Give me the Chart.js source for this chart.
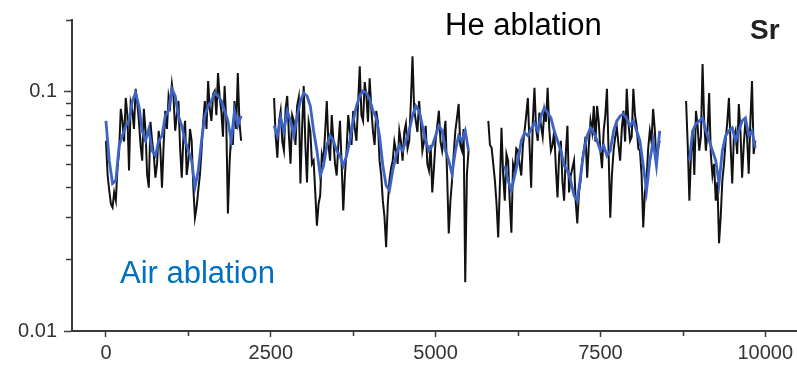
<!DOCTYPE html>
<html>
<head>
<meta charset="utf-8">
<script src="https://cdn.jsdelivr.net/npm/chart.js@4"></script>
<style>
  body { margin: 0; background: #fff; }
  canvas { display: block; }
</style>
</head>
<body>
<canvas id="sr" width="797" height="368"></canvas>
<script>
// sampling: each run is recorded every 50 units starting at segStarts[k];
// the "m" arrays hold the He readings taken halfway between those
let segStarts = [0, 2550, 5800, 8800];
let step = 50;

// He ablation (black)
let he1 = [0.0625, 0.0387, 0.0329, 0.0352, 0.0568, 0.0757, 0.0944, 0.0469, 0.0834, 0.103, 0.0757, 0.0516, 0.0688, 0.0398, 0.0625, 0.0438, 0.0688, 0.0398, 0.0834, 0.0962, 0.108, 0.0688, 0.0917, 0.0438, 0.0757, 0.0516, 0.0625, 0.0298, 0.0387, 0.0568, 0.0917, 0.111, 0.0757, 0.101, 0.120, 0.0834, 0.106, 0.031, 0.0688, 0.0917, 0.120, 0.0625];
let he1m = [0.045, 0.034, 0.038, 0.048, 0.085, 0.062, 0.080, 0.090, 0.070, 0.090, 0.060, 0.085, 0.045, 0.075, 0.055, 0.050, 0.058, 0.060, 0.070, 0.088, 0.095, 0.080, 0.058, 0.065, 0.045, 0.070, 0.040, 0.033, 0.045, 0.075, 0.070, 0.085, 0.098, 0.080, 0.095, 0.065, 0.075, 0.050, 0.060, 0.070, 0.075];
let he2 = [0.0944, 0.0531, 0.0833, 0.0568, 0.0962, 0.0501, 0.0757, 0.0874, 0.0414, 0.106, 0.0418, 0.0688, 0.0516, 0.0276, 0.0369, 0.0516, 0.0917, 0.0516, 0.0625, 0.0447, 0.0757, 0.0319, 0.0568, 0.0688, 0.0833, 0.0625, 0.128, 0.0757, 0.0962, 0.114, 0.0688, 0.0833, 0.0516, 0.0351, 0.0224, 0.0426, 0.0516, 0.0568, 0.0688, 0.0516, 0.0736, 0.0625, 0.141, 0.0757, 0.0917, 0.0568, 0.0722, 0.0469, 0.0380, 0.0625, 0.0833, 0.0568, 0.0757, 0.0256, 0.0426, 0.0688, 0.0891, 0.0568, 0.0160, 0.0568];
let he2m = [0.065, 0.075, 0.062, 0.085, 0.066, 0.080, 0.060, 0.095, 0.070, 0.060, 0.075, 0.050, 0.038, 0.034, 0.055, 0.068, 0.060, 0.080, 0.050, 0.060, 0.050, 0.045, 0.080, 0.060, 0.070, 0.090, 0.080, 0.110, 0.075, 0.085, 0.060, 0.075, 0.045, 0.030, 0.034, 0.048, 0.062, 0.050, 0.062, 0.068, 0.058, 0.090, 0.085, 0.068, 0.075, 0.062, 0.050, 0.060, 0.048, 0.072, 0.062, 0.065, 0.045, 0.035, 0.055, 0.078, 0.060, 0.070, 0.045];
let he3 = [0.0757, 0.0584, 0.0426, 0.0246, 0.0708, 0.0351, 0.0516, 0.0258, 0.0469, 0.0568, 0.0447, 0.0688, 0.0944, 0.0398, 0.104, 0.0625, 0.0722, 0.0833, 0.104, 0.0568, 0.0688, 0.0362, 0.0625, 0.0351, 0.0722, 0.0447, 0.0516, 0.0282, 0.0426, 0.0568, 0.0438, 0.0757, 0.0874, 0.0874, 0.0568, 0.0688, 0.103, 0.0298, 0.0568, 0.0708, 0.0516, 0.0833, 0.103, 0.0625, 0.103, 0.0722, 0.0568, 0.0271, 0.0426, 0.0688, 0.0849, 0.0516, 0.0625];
let he3m = [0.060, 0.050, 0.034, 0.040, 0.045, 0.055, 0.035, 0.050, 0.058, 0.050, 0.060, 0.080, 0.060, 0.075, 0.070, 0.082, 0.065, 0.075, 0.070, 0.060, 0.048, 0.055, 0.042, 0.055, 0.038, 0.048, 0.035, 0.038, 0.052, 0.065, 0.060, 0.068, 0.062, 0.075, 0.048, 0.080, 0.055, 0.045, 0.065, 0.060, 0.070, 0.062, 0.075, 0.065, 0.080, 0.058, 0.045, 0.038, 0.058, 0.062, 0.070, 0.058];
let he4 = [0.0917, 0.0351, 0.0688, 0.0833, 0.0568, 0.131, 0.0568, 0.099, 0.0447, 0.0351, 0.0233, 0.0426, 0.0625, 0.0944, 0.0414, 0.0688, 0.0891, 0.0438, 0.0757, 0.0455, 0.111, 0.0625];
let he4m = [0.060, 0.055, 0.045, 0.072, 0.065, 0.075, 0.068, 0.055, 0.050, 0.042, 0.030, 0.050, 0.075, 0.060, 0.065, 0.055, 0.068, 0.060, 0.065, 0.075, 0.055];

// Air ablation (blue)
let air1 = [0.0757, 0.0516, 0.0414, 0.0426, 0.0596, 0.0656, 0.0722, 0.0757, 0.0917, 0.099, 0.0874, 0.0688, 0.0625, 0.0701, 0.0568, 0.0541, 0.0625, 0.0656, 0.0794, 0.0834, 0.103, 0.0962, 0.0794, 0.0722, 0.0625, 0.0568, 0.0516, 0.0398, 0.0469, 0.0625, 0.0794, 0.0874, 0.0917, 0.099, 0.0962, 0.0917, 0.0834, 0.0757, 0.0625, 0.0834, 0.0722, 0.0794];
let air2 = [0.0722, 0.0656, 0.0779, 0.0688, 0.0833, 0.0757, 0.0656, 0.0794, 0.0917, 0.099, 0.0962, 0.0874, 0.0688, 0.0568, 0.0447, 0.0492, 0.0596, 0.0656, 0.0625, 0.0568, 0.0541, 0.0492, 0.0541, 0.0625, 0.0757, 0.0874, 0.0962, 0.101, 0.099, 0.0935, 0.0833, 0.0779, 0.0656, 0.0492, 0.0406, 0.0387, 0.0469, 0.0541, 0.0596, 0.0568, 0.0625, 0.0688, 0.0794, 0.0874, 0.0833, 0.0722, 0.0625, 0.0568, 0.0596, 0.0656, 0.0722, 0.0688, 0.0568, 0.0516, 0.0455, 0.0568, 0.0656, 0.0625, 0.0688, 0.0568];
let air3 = [null, null, null, null, null, 0.0492, 0.0426, 0.0387, 0.0447, 0.0516, 0.0625, 0.0675, 0.0656, 0.0701, 0.0743, 0.0688, 0.0794, 0.0858, 0.0818, 0.0779, 0.0688, 0.0625, 0.0568, 0.0492, 0.0469, 0.0426, 0.0369, 0.0351, 0.0447, 0.0568, 0.0656, 0.0708, 0.0675, 0.0625, 0.0568, 0.0596, 0.0541, 0.0568, 0.0688, 0.0757, 0.0794, 0.0810, 0.0772, 0.0722, 0.0757, 0.0688, 0.0625, 0.0492, 0.0387, 0.0516, 0.0625, 0.0492, 0.0688];
let air4 = [null, 0.0516, 0.0688, 0.0736, 0.0757, 0.0779, 0.0688, 0.0625, 0.0568, 0.0516, 0.0414, 0.0568, 0.0656, 0.0688, 0.0708, 0.0625, 0.0688, 0.0757, 0.0779, 0.0656, 0.0688, 0.0584];

let xTicks = [0, 2500, 5000, 7500, 10000];
let xMinor = [1250, 3750, 6250, 8750];
let yTicks = [0.01, 0.1];
let yMinor = [0.02, 0.03, 0.04, 0.05, 0.06, 0.07, 0.08, 0.09, 0.2];

let axisColor = '#3a3a3a';
let labelColor = '#333';
let fontFamily = '"Liberation Sans", Arial, sans-serif';

function buildPoints(segs, mids) {
    let pts = [];
    segs.forEach(function (vals, k) {
        if (k > 0) pts.push({x: segStarts[k] - step, y: null});
        vals.forEach(function (v, i) {
            pts.push({x: segStarts[k] + i * step, y: v});
            if (mids && i < mids[k].length) {
                pts.push({x: segStarts[k] + i * step + step / 2, y: mids[k][i]});
            }
        });
    });
    return pts;
}

let hePoints = buildPoints([he1, he2, he3, he4], [he1m, he2m, he3m, he4m]);
let airPoints = buildPoints([air1, air2, air3, air4]);

// minor tick marks and the text labels on the plot
let extras = {
    id: 'extras',
    afterDraw: function (chart) {
        let ctx = chart.ctx;
        let xs = chart.scales.x;
        let ys = chart.scales.y;
        ctx.save();
        ctx.strokeStyle = axisColor;
        ctx.lineWidth = 1.5;
        ctx.beginPath();
        yMinor.forEach(function (v) {
            let py = Math.round(ys.getPixelForValue(v)) + 0.5;
            ctx.moveTo(ys.right - 6, py);
            ctx.lineTo(ys.right, py);
        });
        xMinor.forEach(function (v) {
            let px = Math.round(xs.getPixelForValue(v)) + 0.5;
            ctx.moveTo(px, xs.top);
            ctx.lineTo(px, xs.top + 5);
        });
        ctx.stroke();

        ctx.textBaseline = 'alphabetic';
        ctx.textAlign = 'left';
        ctx.fillStyle = '#000';
        ctx.font = '31px ' + fontFamily;
        ctx.fillText('He ablation', 445, 35);
        ctx.fillStyle = '#0070c0';
        ctx.fillText('Air ablation', 120, 283);
        ctx.fillStyle = '#222';
        ctx.font = 'bold 28px ' + fontFamily;
        ctx.fillText('Sr', 750, 39);
        ctx.restore();
    }
};

var ctx = document.getElementById('sr').getContext('2d');
var chart = new Chart(ctx, {
    type: 'line',
    data: {
        datasets: [{
            label: 'Air ablation',
            data: airPoints,
            borderColor: '#3d63c4',
            borderWidth: 2.8,
            pointRadius: 0,
            tension: 0,
            spanGaps: false
        }, {
            label: 'He ablation',
            data: hePoints,
            borderColor: '#111',
            borderWidth: 2,
            pointRadius: 0,
            tension: 0,
            spanGaps: false
        }]
    },
    options: {
        responsive: false,
        animation: false,
        layout: { padding: { top: 20, right: 0, left: 0, bottom: 0 } },
        plugins: {
            legend: { display: false },
            tooltip: { enabled: false }
        },
        scales: {
            x: {
                type: 'linear',
                min: -515,
                max: 10470,
                afterBuildTicks: function (scale) {
                    scale.ticks = xTicks.map(function (v) { return {value: v}; });
                },
                afterFit: function (scale) { scale.height = 37; },
                grid: { drawOnChartArea: false, tickLength: 6, tickColor: axisColor, tickWidth: 1.5 },
                border: { color: axisColor, width: 2 },
                ticks: {
                    color: labelColor,
                    font: { family: fontFamily, size: 20 },
                    padding: 4,
                    maxRotation: 0,
                    autoSkip: false,
                    callback: function (v) { return String(v); }
                }
            },
            y: {
                type: 'logarithmic',
                min: 0.01,
                max: 0.2,
                afterBuildTicks: function (scale) {
                    scale.ticks = yTicks.map(function (v) { return {value: v}; });
                },
                afterFit: function (scale) { scale.width = 72; },
                grid: { drawOnChartArea: false, tickLength: 8, tickColor: axisColor, tickWidth: 1.5 },
                border: { color: axisColor, width: 2 },
                ticks: {
                    color: labelColor,
                    font: { family: fontFamily, size: 20 },
                    padding: 7,
                    callback: function (v) { return String(v); }
                }
            }
        }
    },
    plugins: [extras]
});
</script>
</body>
</html>
